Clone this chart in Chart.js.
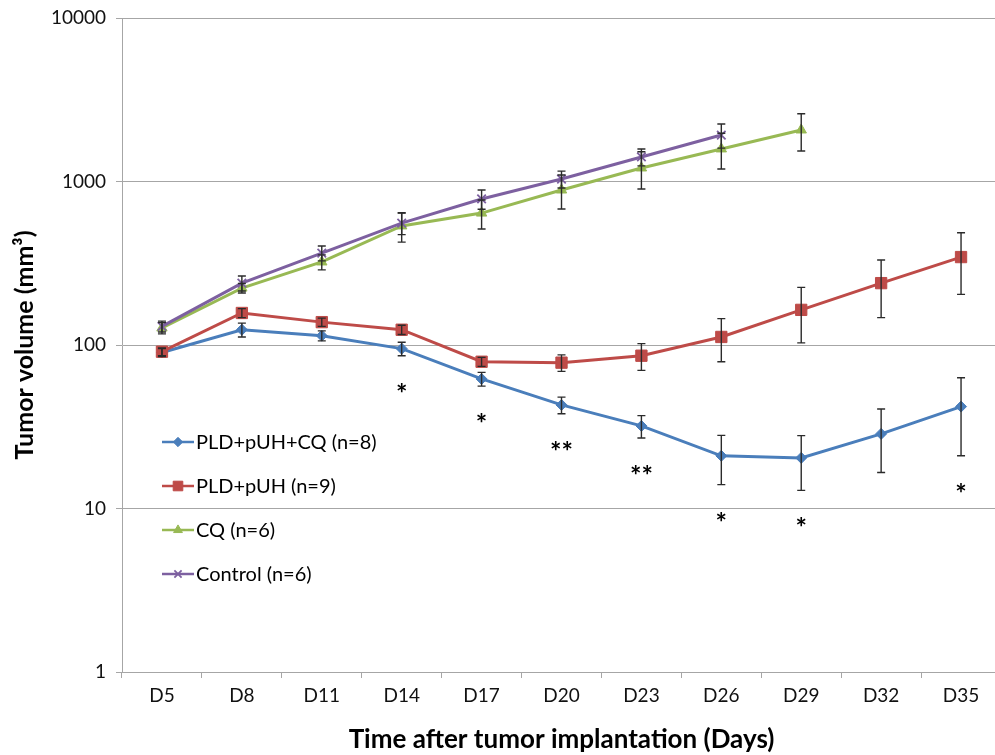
<!DOCTYPE html>
<html>
<head>
<meta charset="utf-8">
<script src="https://cdn.jsdelivr.net/npm/chart.js@4.4.1/dist/chart.umd.min.js"></script>
<style>
  html, body { margin: 0; padding: 0; background: #fff; overflow: hidden; }
  #wrap { width: 1010px; height: 755px; position: relative; }
</style>
</head>
<body>
<div id="wrap"><canvas id="c"></canvas></div>
<script>
// Days after implantation
const days = ['D5', 'D8', 'D11', 'D14', 'D17', 'D20', 'D23', 'D26', 'D29', 'D32', 'D35'];
const yTicks = [1, 10, 100, 1000, 10000];

// Mean tumour volume (mm³) and SD per group
const comboMean = [90, 124, 114, 95, 62, 43, 32, 21, 20.4, 28.6, 42];
const comboErr  = [5, 12, 8, 9, 6, 5, 5, 7, 7.5, 12, 21];
const pupMean   = [91, 157, 138, 124, 79, 78, 86, 112, 164, 239, 345];
const pupErr    = [5, 10, 8, 8, 5, 9, 16, 33, 61, 92, 141];
const cqMean    = [127, 223, 322, 535, 641, 887, 1210, 1582, 2066, null, null];
const cqErr     = [10, 15, 34, 109, 129, 208, 310, 390, 530, null, null];
const ctrlMean  = [130, 239, 365, 557, 782, 1035, 1413, 1924, null, null, null];
const ctrlErr   = [10, 25, 38, 84, 105, 123, 167, 324, null, null, null];

// Significance marks shown under the PLD+pUH+CQ group
const stars = ['', '', '', '*', '*', '**', '**', '*', '*', '', '*'];

const FONT = 'Lato, "Liberation Sans", sans-serif';

const errorBars = {
  id: 'errorBars',
  afterDatasetsDraw(chart) {
    const { ctx } = chart;
    const xs = chart.scales.x, ys = chart.scales.y;
    ctx.save();
    ctx.strokeStyle = '#2b2b2b';
    ctx.lineWidth = 1.4;
    chart.data.datasets.forEach(ds => {
      ds.errors.forEach((e, i) => {
        const m = ds.data[i];
        if (m == null || e == null) return;
        const x = xs.getPixelForValue(i);
        const yt = ys.getPixelForValue(m + e);
        const yb = ys.getPixelForValue(Math.max(m - e, 1));
        ctx.beginPath();
        ctx.moveTo(x, yt); ctx.lineTo(x, yb);
        ctx.moveTo(x - 4, yt); ctx.lineTo(x + 4, yt);
        ctx.moveTo(x - 4, yb); ctx.lineTo(x + 4, yb);
        ctx.stroke();
      });
    });
    ctx.restore();
  }
};

const annotations = {
  id: 'annotations',
  afterDraw(chart) {
    const { ctx } = chart;
    const xs = chart.scales.x, ys = chart.scales.y;
    ctx.save();
    // asterisks below the combination group's lower error bar
    ctx.fillStyle = '#000';
    ctx.font = 'bold 27px ' + FONT;
    ctx.textAlign = 'center';
    ctx.textBaseline = 'alphabetic';
    stars.forEach((s, i) => {
      if (!s) return;
      const x = xs.getPixelForValue(i);
      const y = ys.getPixelForValue(comboMean[i] - comboErr[i]) + 47;
      ctx.fillText(s, x, y);
    });

    // legend inside the plot area
    const lx = xs.left + 40, ly = ys.top + 424, gap = 44;
    ctx.textBaseline = 'middle';
    chart.data.datasets.slice().sort((a, b) => a.legendIndex - b.legendIndex).forEach((ds, k) => {
      const y = ly + k * gap;
      ctx.strokeStyle = ds.borderColor;
      ctx.lineWidth = 2.5;
      ctx.beginPath();
      ctx.moveTo(lx, y); ctx.lineTo(lx + 32, y);
      ctx.stroke();
      ctx.fillStyle = ds.pointBackgroundColor;
      ctx.strokeStyle = ds.pointBorderColor;
      ctx.lineWidth = ds.pointBorderWidth;
      Chart.helpers.drawPoint(ctx, { pointStyle: ds.pointStyle, radius: ds.pointRadius * 0.85, rotation: 0, borderWidth: ds.pointBorderWidth }, lx + 16, y);
      ctx.fillStyle = '#000';
      ctx.font = '20px ' + FONT;
      ctx.textAlign = 'left';
      ctx.fillText(ds.label, lx + 34, y + 1);
    });
    ctx.restore();
  }
};

function series(label, data, errors, color, style, radius, order, legendIndex) {
  return {
    label, data, errors, order, legendIndex,
    borderColor: color, backgroundColor: color,
    borderWidth: 3,
    pointStyle: style, pointRadius: radius,
    pointBackgroundColor: color, pointBorderColor: color, pointBorderWidth: style === 'crossRot' ? 1.8 : 1,
    tension: 0, spanGaps: false
  };
}

new Chart(document.getElementById('c'), {
  type: 'line',
  data: {
    labels: days,
    datasets: [
      series('PLD+pUH+CQ (n=8)', comboMean, comboErr, '#4A7EBB', 'rectRot', 5.5, 3, 0),
      series('PLD+pUH (n=9)', pupMean, pupErr, '#BE4B48', 'rect', 8, 2, 1),
      series('CQ (n=6)', cqMean, cqErr, '#98B954', 'triangle', 6, 1, 2),
      series('Control (n=6)', ctrlMean, ctrlErr, '#7D60A0', 'crossRot', 6, 0, 3)
    ]
  },
  options: {
    responsive: true,
    maintainAspectRatio: false,
    animation: false,
    layout: { padding: { top: 18, right: 6, bottom: 0, left: 0 } },
    plugins: { legend: { display: false }, tooltip: { enabled: false } },
    scales: {
      x: {
        offset: true,
        grid: { offset: true, drawOnChartArea: false, drawTicks: true, tickLength: 6, color: '#a6a6a6' },
        border: { color: '#a6a6a6', width: 1 },
        ticks: { font: { family: FONT, size: 19 }, color: '#111', padding: 6, autoSkip: false, maxRotation: 0 },
        title: { display: true, text: 'Time after tumor implantation (Days)', font: { family: FONT, size: 26, weight: 'bold' }, color: '#000', padding: { top: 5, bottom: 0 } },
        afterFit: s => { s.height = 83; s.paddingLeft = 0; s.paddingRight = 0; }
      },
      y: {
        type: 'logarithmic',
        min: 1, max: 10000,
        afterBuildTicks: s => { s.ticks = yTicks.map(v => ({ value: v })); },
        grid: { color: '#a6a6a6', lineWidth: 1, tickLength: 6, drawTicks: true },
        border: { color: '#a6a6a6', width: 1 },
        ticks: { callback: v => String(v), font: { family: FONT, size: 19 }, color: '#111', padding: 10, autoSkip: false },
        title: { display: true, text: 'Tumor volume (mm³)', font: { family: FONT, size: 25, weight: 'bold' }, color: '#000', padding: { top: 10, bottom: 0 } },
        afterFit: s => { s.width = 122; s.paddingTop = 0; s.paddingBottom = 0; }
      }
    }
  },
  plugins: [errorBars, annotations]
});
</script>
</body>
</html>
